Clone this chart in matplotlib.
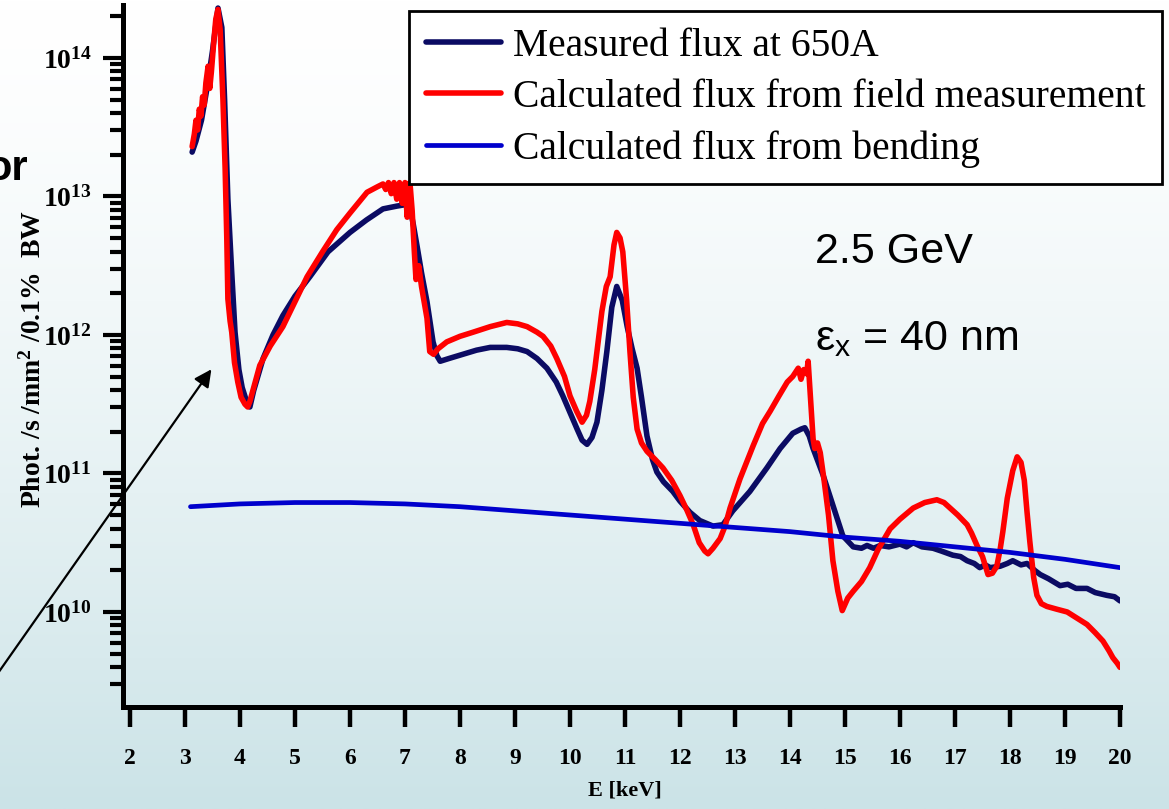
import numpy as np
import matplotlib
matplotlib.use("Agg")
import matplotlib.pyplot as plt
from matplotlib.ticker import FixedLocator, FuncFormatter, LogLocator, NullFormatter

# photon energy [keV] and log10 of flux [phot/s/mm^2/0.1% BW]
e_meas = [3.13, 3.2, 3.3, 3.4, 3.5, 3.6, 3.67, 3.72, 3.78, 3.85, 3.91, 3.98, 4.04, 4.12,
          4.18, 4.25, 4.42, 4.6, 4.78, 5.0, 5.27, 5.6, 6.0, 6.3, 6.6, 6.85, 7.0, 7.09,
          7.15, 7.22, 7.3, 7.4, 7.51, 7.58, 7.64, 7.8, 8.05, 8.3, 8.55, 8.85, 9.05, 9.22,
          9.4, 9.58, 9.75, 9.87, 10.0, 10.13, 10.22, 10.31, 10.4, 10.49, 10.58, 10.67,
          10.76, 10.85, 10.95, 11.04, 11.13, 11.22, 11.3, 11.4, 11.5, 11.58, 11.7, 11.87,
          12.0, 12.18, 12.36, 12.6, 12.78, 12.96, 13.27, 13.58, 13.82, 14.05, 14.2, 14.27,
          14.35, 14.42, 14.6, 14.78, 14.96, 15.15, 15.3, 15.4, 15.52, 15.64, 15.8, 16.0,
          16.12, 16.24, 16.4, 16.6, 16.75, 16.96, 17.1, 17.22, 17.35, 17.45, 17.55, 17.64,
          17.82, 17.95, 18.05, 18.2, 18.31, 18.45, 18.55, 18.7, 18.91, 19.05, 19.2, 19.4,
          19.55, 19.76, 19.9, 20.0]
lg_meas = [13.32, 13.40, 13.55, 13.78, 14.05, 14.36, 14.22, 13.7, 12.98, 12.45, 12.02, 11.75,
           11.62, 11.52, 11.48, 11.6, 11.83, 12.0, 12.14, 12.28, 12.42, 12.6, 12.74, 12.83,
           12.91, 12.93, 12.94, 12.92, 12.8, 12.64, 12.45, 12.24, 11.95, 11.85, 11.81, 11.83,
           11.86, 11.89, 11.91, 11.91, 11.90, 11.88, 11.83, 11.76, 11.66, 11.56, 11.44, 11.32,
           11.24, 11.21, 11.26, 11.37, 11.6, 11.88, 12.2, 12.35, 12.25, 12.06, 11.9, 11.76,
           11.55, 11.27, 11.1, 11.01, 10.94, 10.87, 10.80, 10.72, 10.66, 10.62, 10.63, 10.73,
           10.87, 11.04, 11.18, 11.29, 11.32, 11.33, 11.27, 11.18, 10.99, 10.77, 10.55, 10.47,
           10.46, 10.48, 10.46, 10.48, 10.47, 10.49, 10.47, 10.50, 10.47, 10.46, 10.44, 10.41,
           10.40, 10.37, 10.35, 10.32, 10.34, 10.32, 10.33, 10.35, 10.37, 10.34, 10.35, 10.30,
           10.27, 10.24, 10.19, 10.20, 10.17, 10.17, 10.14, 10.12, 10.11, 10.08]

e_field = [3.13, 3.17, 3.2, 3.23, 3.26, 3.29, 3.32, 3.35, 3.38, 3.42, 3.45, 3.48, 3.52, 3.56,
           3.6, 3.64, 3.69, 3.73, 3.76, 3.78, 3.82, 3.85, 3.9, 3.96, 4.02, 4.09, 4.14, 4.18,
           4.25, 4.36, 4.55, 4.78, 5.0, 5.22, 5.5, 5.76, 6.0, 6.31, 6.5, 6.6, 6.65, 6.7, 6.75,
           6.8, 6.85, 6.9, 6.95, 7.0, 7.04, 7.09, 7.13, 7.17, 7.2, 7.25, 7.3, 7.4, 7.45, 7.52,
           7.6, 7.76, 8.0, 8.24, 8.55, 8.85, 9.05, 9.22, 9.4, 9.51, 9.65, 9.76, 9.9, 10.0,
           10.12, 10.22, 10.3, 10.36, 10.45, 10.58, 10.66, 10.73, 10.8, 10.85, 10.91, 10.96,
           11.03, 11.09, 11.15, 11.22, 11.3, 11.4, 11.55, 11.69, 11.85, 12.0, 12.12, 12.24,
           12.35, 12.45, 12.51, 12.6, 12.73, 12.82, 12.91, 13.09, 13.33, 13.5, 13.64, 13.8,
           13.95, 14.05, 14.15, 14.2, 14.25, 14.3, 14.33, 14.38, 14.42, 14.45, 14.5, 14.55,
           14.62, 14.7, 14.78, 14.87, 14.95, 15.05, 15.15, 15.3, 15.45, 15.6, 15.82, 16.0,
           16.24, 16.45, 16.67, 16.8, 16.91, 17.05, 17.22, 17.3, 17.4, 17.5, 17.6, 17.68,
           17.76, 17.82, 17.87, 17.95, 18.05, 18.13, 18.2, 18.26, 18.31, 18.36, 18.43, 18.49,
           18.57, 18.67, 18.85, 19.04, 19.2, 19.4, 19.55, 19.69, 19.8, 19.87, 19.95, 20.0]
lg_field = [13.36, 13.45, 13.55, 13.48, 13.63, 13.58, 13.72, 13.66, 13.82, 13.94, 13.78, 13.9,
            14.1, 14.28, 14.35, 14.2, 13.7, 13.2, 12.7, 12.26, 12.1, 12.02, 11.8, 11.66,
            11.55, 11.50, 11.48, 11.52, 11.62, 11.78, 11.92, 12.06, 12.24, 12.42, 12.6, 12.76,
            12.88, 13.03, 13.07, 13.09, 13.05, 13.1, 13.02, 13.1, 12.98, 13.1, 12.95, 13.1,
            12.85, 13.1, 12.9, 12.6, 12.4, 12.5, 12.35, 12.12, 11.88, 11.86, 11.9, 11.95,
            11.99, 12.02, 12.06, 12.09, 12.08, 12.06, 12.02, 11.99, 11.92, 11.83, 11.7, 11.56,
            11.45, 11.37, 11.42, 11.52, 11.75, 12.17, 12.35, 12.42, 12.65, 12.74, 12.7, 12.6,
            12.25, 11.88, 11.55, 11.32, 11.22, 11.16, 11.1, 11.04, 10.95, 10.84, 10.74, 10.63,
            10.5, 10.44, 10.42, 10.46, 10.53, 10.62, 10.75, 10.96, 11.20, 11.36, 11.45, 11.56,
            11.66, 11.7, 11.76, 11.68, 11.75, 11.72, 11.81, 11.5, 11.25, 11.18, 11.22, 11.15,
            10.95, 10.7, 10.37, 10.15, 10.01, 10.1, 10.15, 10.22, 10.32, 10.45, 10.60, 10.67,
            10.75, 10.79, 10.81, 10.79, 10.75, 10.7, 10.63, 10.57, 10.48, 10.4, 10.27, 10.28,
            10.33, 10.45, 10.58, 10.82, 11.02, 11.12, 11.08, 10.95, 10.72, 10.51, 10.25, 10.12,
            10.06, 10.04, 10.02, 10.0, 9.96, 9.91, 9.85, 9.79, 9.72, 9.67, 9.63, 9.60]

e_bend = [3.1, 4, 5, 6, 7, 8, 9, 10, 11, 12, 13, 14, 15, 16, 17, 18, 19, 20]
lg_bend = [10.76, 10.78, 10.79, 10.79, 10.78, 10.76, 10.73, 10.70, 10.67, 10.64, 10.61,
           10.58, 10.54, 10.51, 10.47, 10.43, 10.38, 10.32]

x_ticks = list(range(2, 21))
y_ticks = [1e10, 1e11, 1e12, 1e13, 1e14]

legend_labels = ["Measured flux at 650A",
                 "Calculated flux from field measurement",
                 "Calculated flux from bending"]

W, H = 1169, 809
fig = plt.figure(figsize=(W / 100, H / 100), dpi=100)

# pale slide background fading to light blue
bg = fig.add_axes([0, 0, 1, 1], zorder=-10)
t = np.linspace(0, 1, 400)[:, None] ** 1.4
top = np.array([1.0, 1.0, 1.0])
bot = np.array([203, 227, 231]) / 255
grad = top + (bot - top) * t[..., None]
bg.imshow(np.repeat(grad, 2, axis=1), aspect="auto", extent=[0, 1, 0, 1])
bg.axis("off")

ax = fig.add_axes([123 / W, 1 - 707 / H, (1120 - 123) / W, (707 - 5) / H])
ax.set_facecolor("none")

ax.plot(e_meas, 10 ** np.array(lg_meas), color="#0b0b63", lw=4.0, solid_capstyle="round",
        solid_joinstyle="round", label=legend_labels[0], zorder=3)
ax.plot(e_field, 10 ** np.array(lg_field), color="#ff0000", lw=4.0, solid_capstyle="round",
        solid_joinstyle="round", label=legend_labels[1], zorder=4)
ax.plot(e_bend, 10 ** np.array(lg_bend), color="#0000cc", lw=3.4, solid_capstyle="round",
        label=legend_labels[2], zorder=5)

ax.set_yscale("log")
ax.set_xlim(1.873, 20)
ax.set_ylim(2.06e9, 2.41e14)

for s in ["top", "right"]:
    ax.spines[s].set_visible(False)
for s in ["left", "bottom"]:
    ax.spines[s].set_linewidth(3.6)
    ax.spines[s].set_capstyle("projecting")

ax.xaxis.set_major_locator(FixedLocator(x_ticks))
ax.yaxis.set_major_locator(FixedLocator(y_ticks))
ax.yaxis.set_minor_locator(LogLocator(base=10, subs=np.arange(2, 10)))
ax.yaxis.set_minor_formatter(NullFormatter())
ax.yaxis.set_major_formatter(FuncFormatter(lambda v, p: r"$\mathregular{10^{%d}}$" % round(np.log10(v))))

ax.tick_params(axis="x", which="major", direction="out", length=14.5, width=3.2, pad=15)
ax.tick_params(axis="y", which="major", direction="out", length=14.5, width=3.0, pad=8)
ax.tick_params(axis="y", which="minor", direction="out", length=9.5, width=3.0)

for lab in ax.get_xticklabels():
    lab.set_fontfamily("Liberation Serif")
    lab.set_fontweight("bold")
    lab.set_fontsize(17)
for lab in ax.get_yticklabels():
    lab.set_fontfamily("Liberation Serif")
    lab.set_fontweight("bold")
    lab.set_fontsize(20)

fig.text(625 / W, 1 - 790 / H, "E [keV]", family="Liberation Serif", weight="bold",
         fontsize=16, ha="center", va="center")
fig.text(33 / W, 1 - 359 / H, r"Phot. /s /mm$\mathregular{^2}$ /0.1%  BW", family="Liberation Serif",
         weight="bold", fontsize=20, rotation=90, ha="center", va="center")

leg = ax.legend(loc="upper right", bbox_to_anchor=(1162 / W, 1 - 11 / H),
                bbox_transform=fig.transFigure, prop={"family": "Liberation Serif", "size": 28.5},
                frameon=True, fancybox=False, borderaxespad=0, borderpad=0.42,
                labelspacing=0.36, handlelength=1.9, handletextpad=0.3)
leg.get_frame().set_edgecolor("black")
leg.get_frame().set_linewidth(2.0)
leg.get_frame().set_facecolor("white")
leg.get_frame().set_alpha(1)

fig.text(815 / W, 1 - 263 / H, "2.5 GeV", family="Liberation Sans", fontsize=31,
         ha="left", va="baseline")
fig.text(815 / W, 1 - 350 / H, r"$\mathregular{\varepsilon_x}$ = 40 nm", family="Liberation Sans",
         fontsize=31, ha="left", va="baseline")

# text fragment and pointer arrow running in from the left
fig.text(28 / W, 1 - 180 / H, "or", family="Liberation Sans", weight="bold", fontsize=30,
         ha="right", va="baseline")
fig.add_artist(matplotlib.patches.FancyArrowPatch(
    (-23 / W, 1 - 703 / H), (213 / W, 1 - 367 / H), transform=fig.transFigure,
    arrowstyle="-|>", mutation_scale=26, lw=1.6, color="black"))

fig.savefig("out.png", dpi=100)
